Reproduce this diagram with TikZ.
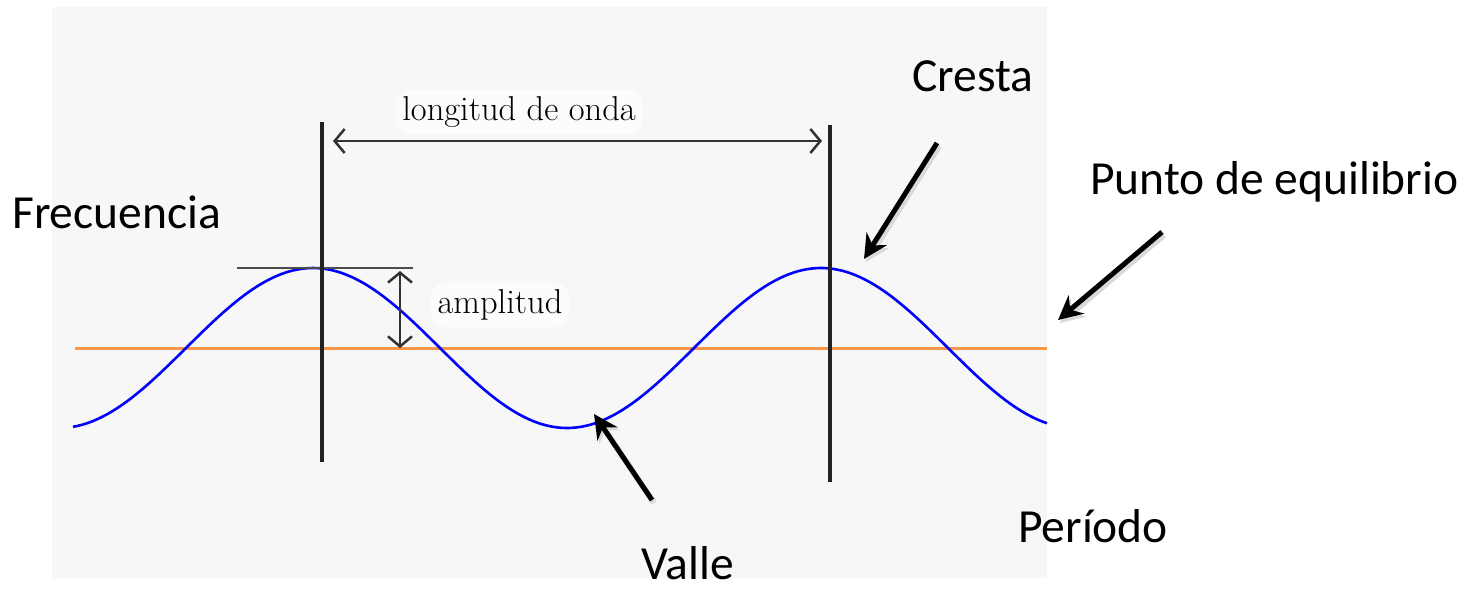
\documentclass[tikz,border=0pt]{standalone}
\usepackage{fontspec}
\setsansfont{Carlito}
\usepackage{tikz}
\usetikzlibrary{arrows.meta,positioning}
\definecolor{bgc}{HTML}{F7F7F7}
\definecolor{wavec}{HTML}{0000FF}
\definecolor{eqc}{HTML}{F79646}
\definecolor{linec}{HTML}{222222}
\definecolor{blobc}{HTML}{FBFCFB}
\tikzset{
  ar/.style={-{Stealth[length=24pt,width=24pt,inset=8pt]},line width=5pt,black,
    preaction={draw=black!15,line width=6pt,transform canvas={shift={(2pt,-3pt)}}}},
  dim/.style={{Straight Barb[length=10pt,width=24pt]}-{Straight Barb[length=10pt,width=24pt]},line width=2.5pt,black!80},
  lb/.style={font=\fontsize{47.5}{56}\selectfont\sffamily,inner sep=0pt,anchor=base west},
  tag/.style={font=\fontsize{34.5}{42}\selectfont,fill=blobc,rounded corners=16pt,inner sep=7pt}
}
\begin{document}
\begin{tikzpicture}[x=1pt,y=-1pt]
\useasboundingbox (0,0) rectangle (1477,590);
\fill[bgc] (52,7) rectangle (1047,578);
% labels
\node[tag] (lon) at (519,112) {longitud de onda};
\node[tag] (amp) at (500,305) {amplitud};
\node[lb] (frec) at (12,228) {Frecuencia};
\node[lb] (cresta) at (912,91) {Cresta};
\node[lb] (punto) at (1090,194) {Punto de equilibrio};
\node[lb] (periodo) at (1018,542) {Período};
\node[lb] (valle) at (641,579) {Valle};
% wave
\draw[eqc,line width=3pt] (75,348) -- (1047,348);
\draw[wavec,line width=2.6pt] plot[domain=73:1047,samples=240] (\x,{348-80*cos(0.70866*(\x-313))});
\draw[gray!60!black,line width=2.6pt] (237,268) -- (413,268);
\draw[linec,line width=3.2pt] (322,122) -- (322,462);
\draw[linec,line width=3.2pt] (830,125) -- (830,482);
% dimensions
\coordinate (l1) at (333,141); \coordinate (l2) at (822,141);
\coordinate (a1) at (400,271); \coordinate (a2) at (400,348);
\draw[dim] (l1) -- (l2);
\draw[dim] (a1) -- (a2);
% pointers
\coordinate (cT) at (937,143); \coordinate (cH) at (864,259);
\coordinate (pT) at (1162,232); \coordinate (pH) at (1058,320);
\coordinate (vT) at (652,500); \coordinate (vH) at (594,414);
\draw[ar] (cT) -- (cH);
\draw[ar] (pT) -- (pH);
\draw[ar] (vT) -- (vH);
\end{tikzpicture}
\end{document}
